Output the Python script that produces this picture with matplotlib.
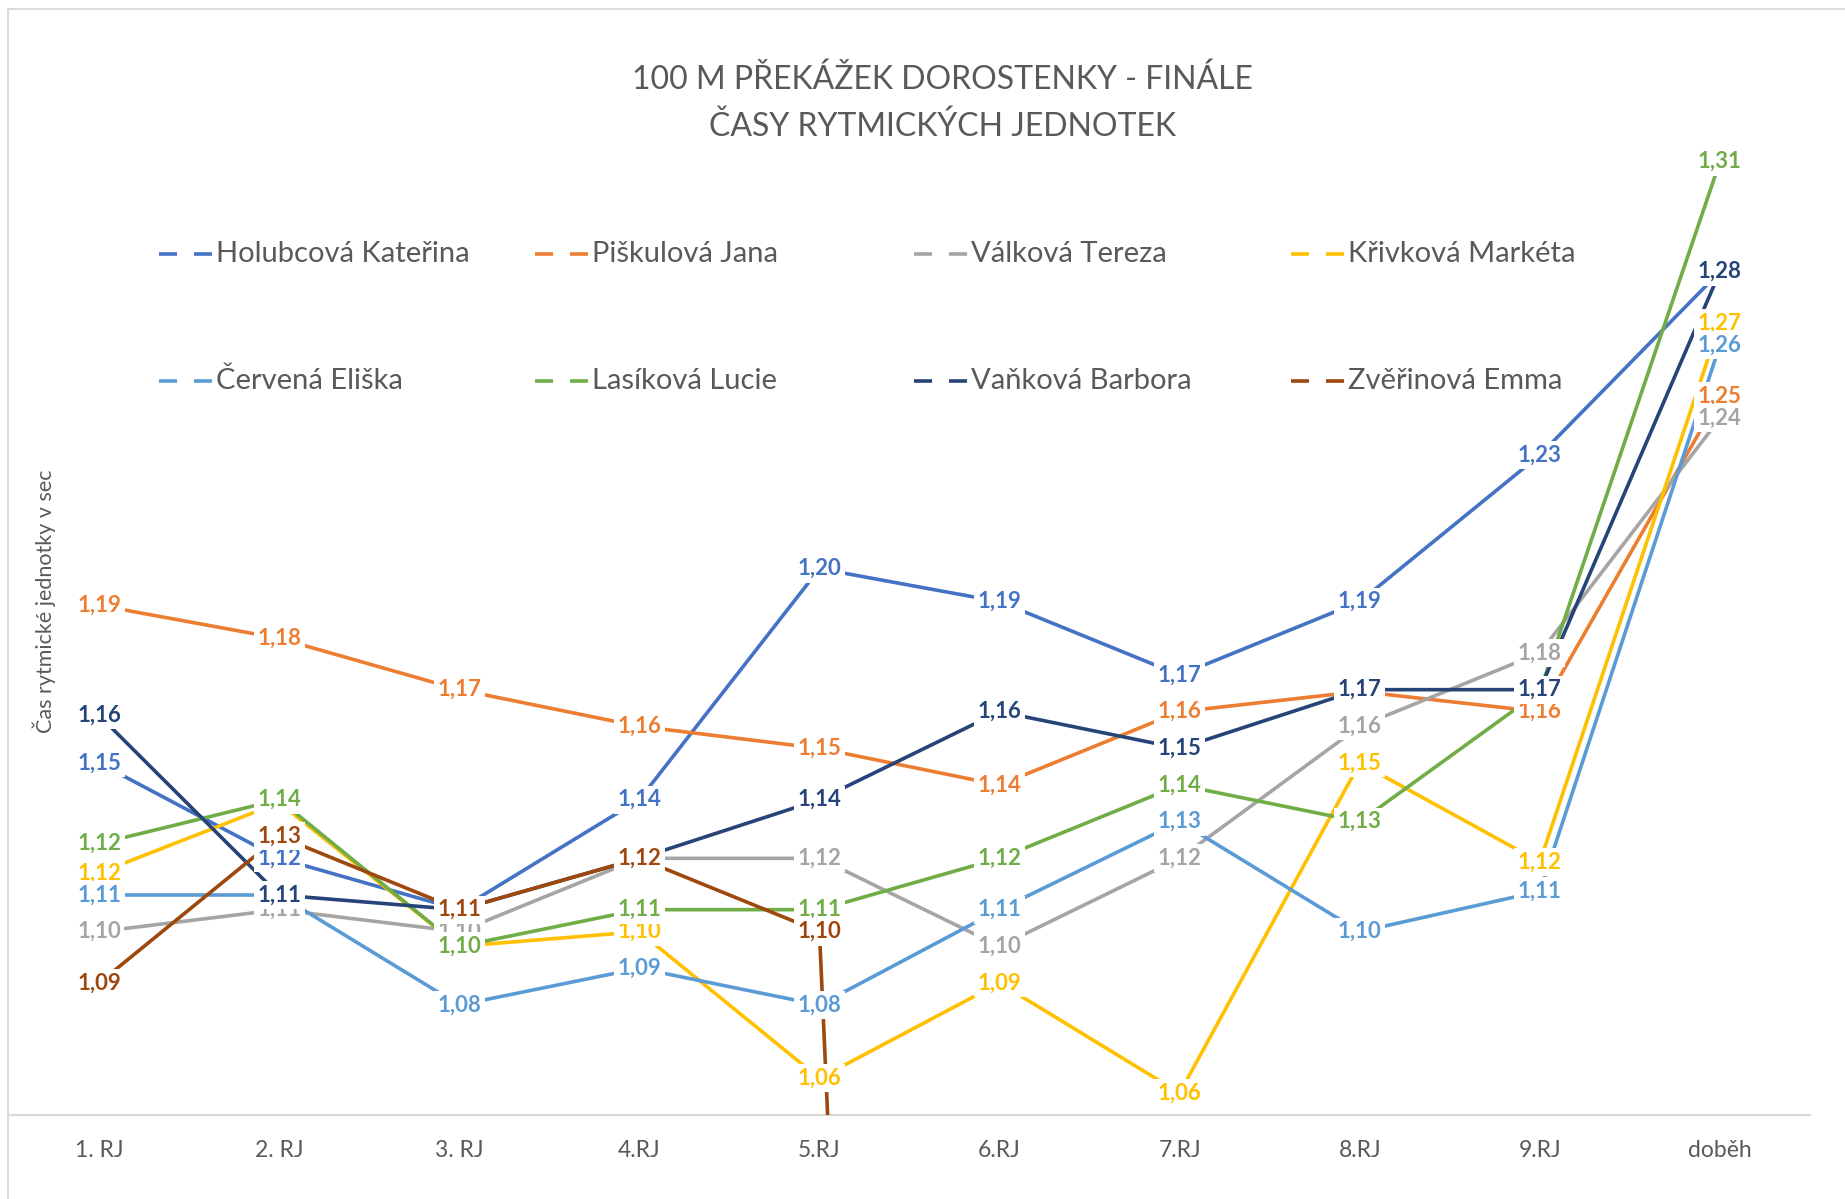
import matplotlib
matplotlib.use("Agg")
import matplotlib.pyplot as plt
from matplotlib.lines import Line2D

plt.rcParams['font.family'] = ['Lato', 'DejaVu Sans']
plt.rcParams['lines.scale_dashes'] = False

categories = ['1. RJ', '2. RJ', '3. RJ', '4.RJ', '5.RJ', '6.RJ', '7.RJ', '8.RJ', '9.RJ', 'doběh']

names = ['Holubcová Kateřina', 'Piškulová Jana', 'Válková Tereza', 'Křivková Markéta',
         'Červená Eliška', 'Lasíková Lucie', 'Vaňková Barbora', 'Zvěřinová Emma']

holubcova = [1.146, 1.120, 1.106, 1.136, 1.199, 1.190, 1.170, 1.190, 1.230, 1.280]
piskulova = [1.189, 1.180, 1.166, 1.156, 1.150, 1.140, 1.160, 1.1655, 1.160, 1.246]
valkova = [1.100, 1.106, 1.100, 1.120, 1.120, 1.096, 1.120, 1.156, 1.176, 1.240]
krivkova = [1.116, 1.1352, 1.096, 1.100, 1.060, 1.086, 1.056, 1.146, 1.119, 1.266]
cervena = [1.110, 1.110, 1.080, 1.090, 1.080, 1.106, 1.130, 1.100, 1.111, 1.260]
lasikova = [1.124, 1.136, 1.096, 1.106, 1.106, 1.120, 1.140, 1.130, 1.1655, 1.310]
vankova = [1.159, 1.110, 1.106, 1.120, 1.136, 1.160, 1.150, 1.166, 1.166, 1.280]
zverinova = [1.086, 1.126, 1.106, 1.120, 1.100, 0.0, 0.0, 0.0, 0.0, 0.0]

series = [holubcova, piskulova, valkova, krivkova, cervena, lasikova, vankova, zverinova]
colors = ['#4472C4', '#ED7D31', '#A5A5A5', '#FFC000', '#5B9BD5', '#70AD47', '#264478', '#9E480E']

W, H = 1845, 1199
grey_txt = '#595959'
fig = plt.figure(figsize=(W / 100, H / 100), dpi=100)

# plot area in pixels: x 9..1810, y 15..1115
ax = fig.add_axes([9 / W, 1 - 1115 / H, (1810 - 9) / W, (1115 - 15) / H])
ax.set_xlim(-0.5, len(categories) - 0.5)
ax.set_ylim(1.05, 1.35)

x = list(range(len(categories)))
for k, (vals, c) in enumerate(zip(series, colors)):
    ax.plot(x, vals, color=c, lw=2.6, solid_joinstyle='round', zorder=2)


def fmt(v):
    return f"{v:.2f}".replace('.', ',')


# data labels above all lines, in series order; a label that a later series
# covers exactly (same text, same spot) is left out
for k, (vals, c) in enumerate(zip(series, colors)):
    for i, v in enumerate(vals):
        if v < 1.05:
            continue
        if any(fmt(s[i]) == fmt(v) and abs(s[i] - v) < 0.0015 for s in series[k + 1:]):
            continue
        ax.text(i, v, fmt(v), ha='center', va='center',
                fontsize=16, fontweight='bold', color=c, clip_on=False,
                bbox=dict(fc='white', ec='none', pad=2.5), zorder=10 + k * 0.01)

for s in ['top', 'right', 'left']:
    ax.spines[s].set_visible(False)
ax.spines['bottom'].set_color('#D9D9D9')
ax.spines['bottom'].set_linewidth(1.6)
ax.spines['bottom'].set_zorder(1)
ax.set_yticks([])
ax.set_xticks(x, categories)
ax.tick_params(axis='x', length=0, pad=18, labelsize=16.5, labelcolor=grey_txt)

# chart border (left and top visible)
fig.add_artist(Line2D([8 / W, 8 / W], [0, 1 - 9 / H], transform=fig.transFigure,
                      color='#D9D9D9', lw=1.3))
fig.add_artist(Line2D([8 / W, 1], [1 - 9 / H, 1 - 9 / H], transform=fig.transFigure,
                      color='#D9D9D9', lw=1.3))

fig.text(942 / W, 1 - 103 / H, "100 M PŘEKÁŽEK DOROSTENKY - FINÁLE\nČASY RYTMICKÝCH JEDNOTEK",
         ha='center', va='center', fontsize=23, color=grey_txt, linespacing=1.68)

fig.text(44 / W, 1 - 601 / H, "Čas rytmické jednotky v sec", rotation=90,
         ha='center', va='center', fontsize=15.5, color=grey_txt)

# legend, 2 rows x 4 columns
leg_x = [159, 535, 914, 1291]
leg_y = [254, 381]
for k, (name, c) in enumerate(zip(names, colors)):
    lx = leg_x[k % 4]
    ly = leg_y[k // 4]
    fig.add_artist(Line2D([lx / W, (lx + 54) / W], [1 - ly / H, 1 - ly / H],
                          transform=fig.transFigure, color=c, lw=2.6,
                          dashes=(13, 12.2), solid_capstyle='butt', dash_capstyle='butt'))
    fig.text((lx + 57) / W, 1 - ly / H, name, ha='left', va='center',
             fontsize=21, color=grey_txt)

fig.savefig('out.png', dpi=100)
